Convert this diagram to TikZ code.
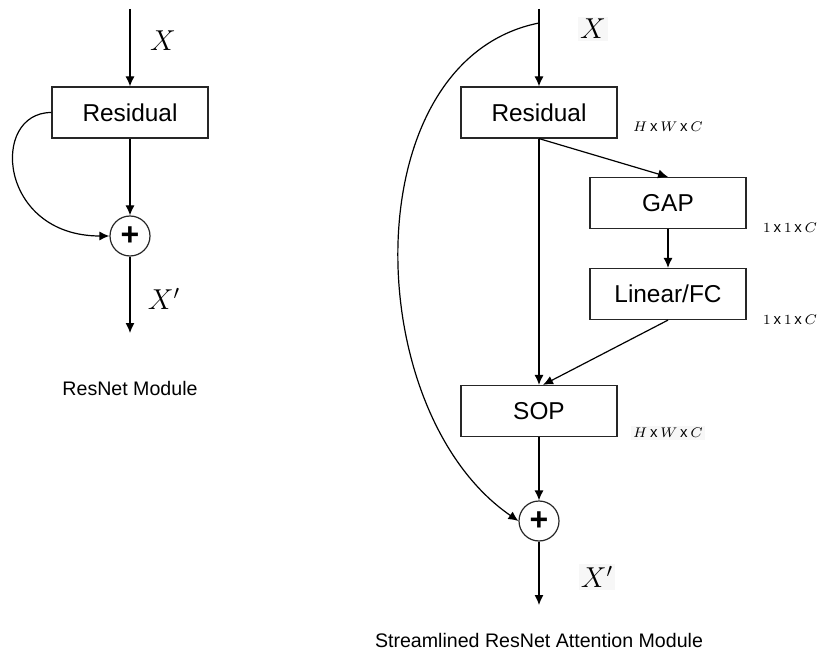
\documentclass[tikz,border=0pt]{standalone}
\usepackage{fontspec}
\setmainfont{Liberation Sans}
\usepackage{amsmath}
\usetikzlibrary{positioning,arrows.meta}

\tikzset{
  blk/.style={draw=black!85, line width=0.6pt, minimum width=78pt, minimum height=25.5pt, inner sep=0pt, font=\fontsize{12.2}{14}\selectfont},
  sumnode/.style={draw=black!85, circle, line width=0.6pt, minimum size=20pt, inner sep=0pt, font=\fontsize{16}{16}\selectfont\bfseries},
  varlbl/.style={font=\fontsize{14}{16}\selectfont},
  shade/.style={fill=black!3, inner sep=1pt},
  dimlbl/.style={font=\fontsize{7.5}{9}\selectfont},
  caption/.style={font=\fontsize{9.8}{12}\selectfont},
}

\begin{document}
\begin{tikzpicture}[x=0.5pt,y=-0.5pt]
\useasboundingbox (0,0) rectangle (819,663);

% ResNet module
\coordinate (in1) at (130,9);
\node [blk] (res1) at (130,112.5) {Residual};
\node [sumnode] (sum1) at (130,236) {+};
\coordinate (out1) at (130,333);
\node [varlbl] (x1) at (163,41) {$X$};
\node [varlbl] (xo1) at (164,299) {$X'$};
\node [caption] (cap1) at (130,388) {ResNet Module};

\draw [line width=0.6pt,>={Latex[length=5pt,width=4.5pt]},->] (in1) to (res1);
\draw [line width=0.6pt,>={Latex[length=5pt,width=4.5pt]},->] (res1) to (sum1);
\draw [line width=0.6pt,>={Latex[length=5pt,width=4.5pt]},->] (sum1) to (out1);
\draw [line width=0.6pt,>={Latex[length=5pt,width=4.5pt]},->] (res1.west) .. controls +(-62,0) and +(-111,0) .. (sum1.west);

% streamlined attention module
\coordinate (in2) at (539,9);
\coordinate (tap) at (539,23);
\node [blk] (res2) at (539,112.5) {Residual};
\node [blk] (gap) at (668,203) {GAP};
\node [blk] (fc) at (668,294) {Linear/FC};
\node [blk] (sop) at (539,411) {SOP};
\node [sumnode] (sum2) at (539,521) {+};
\coordinate (out2) at (539,605);
\node [varlbl,shade] (x2) at (593,29) {$X$};
\node [varlbl,shade] (xo2) at (597,577) {$X'$};

\node [dimlbl] (d1) at (668,127) {$H\,\mathrm{x}\,W\,\mathrm{x}\,C$};
\node [dimlbl] (d2) at (790,228) {$1\,\mathrm{x}\,1\,\mathrm{x}\,C$};
\node [dimlbl] (d3) at (790,320) {$1\,\mathrm{x}\,1\,\mathrm{x}\,C$};
\node [dimlbl,shade] (d4) at (668,433) {$H\,\mathrm{x}\,W\,\mathrm{x}\,C$};
\node [caption] (cap2) at (539,640) {Streamlined ResNet Attention Module};

\draw [line width=0.6pt,>={Latex[length=5pt,width=4.5pt]},->] (in2) to (res2);
\draw [line width=0.6pt,>={Latex[length=5pt,width=4.5pt]},->] (res2.south) to (gap.north);
\draw [line width=0.6pt,>={Latex[length=5pt,width=4.5pt]},->] (gap) to (fc);
\draw [line width=0.6pt,>={Latex[length=5pt,width=4.5pt]},->] (fc.south) to ([xshift=2pt]sop.north);
\draw [line width=0.6pt,>={Latex[length=5pt,width=4.5pt]},->] (res2) to (sop);
\draw [line width=0.6pt,>={Latex[length=5pt,width=4.5pt]},->] (sop) to (sum2);
\draw [line width=0.6pt,>={Latex[length=5pt,width=4.5pt]},->] (sum2) to (out2);
\draw [line width=0.6pt,>={Latex[length=5pt,width=4.5pt]},->] (tap) .. controls +(-186,37) and +(-160,-110) .. (sum2.west);

\end{tikzpicture}
\end{document}
